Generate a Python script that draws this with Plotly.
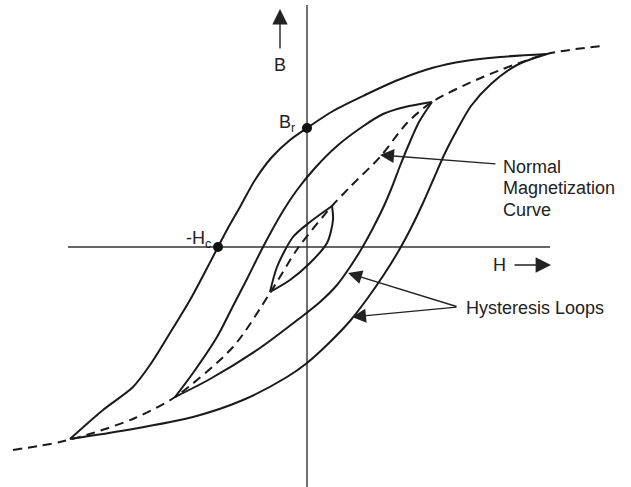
import plotly.graph_objects as go

# ---- data (H, B units; origin at axis crossing) ----
outer_desc_H = [240, 193, 158, 125, 91, 58, 26, 0, -17, -35, -52, -67, -79, -89, -102, -117, -137, -157, -174, -204, -237]
outer_desc_B = [193, 190, 186, 179, 167, 152, 136, 119, 107, 90, 67, 40, 19, 0, -25, -53, -86, -118, -140, -163, -192]

outer_asc_H = [-237, -180, -114, -64, -20, 0, 23, 43, 60, 76, 91, 104, 116, 127, 138, 150, 164, 184, 210, 240]
outer_asc_B = [-192, -183, -170, -153, -130, -116, -95, -74, -52, -29, -5, 19, 44, 69, 94, 117, 141, 163, 182, 193]

mid_desc_H = [125, 98, 76, 55, 30, 8, -10, -24, -44, -60, -75, -90, -114, -132]
mid_desc_B = [145, 140, 133, 120, 101, 79, 57, 36, 0, -32, -61, -90, -126, -150]

mid_asc_H = [-132, -97, -47, -7, 13, 30, 43, 55, 66, 76, 85, 93, 102, 112, 125]
mid_asc_B = [-150, -132, -101, -71, -55, -38, -20, -1, 19, 39, 60, 81, 103, 125, 145]

inner_up_H = [25, 3, -14, -30, -37]
inner_up_B = [41, 25, 10, -20, -45]
inner_lo_H = [-37, -17, 3, 20, 26, 25]
inner_lo_B = [-45, -33, -16, 4, 27, 41]

normal_H = [-294, -247, -214, -172, -132, -74, -37, -9, 25, 43, 73, 100, 125, 176, 240, 295]
normal_B = [-203, -195, -186, -171, -150, -100, -46, -1, 41, 60, 90, 124, 145, 170, 193, 201]

key_H = [0, -89]
key_B = [119, 0]

axis_H_x = [-239, 243]
axis_H_y = [0, 0]
axis_B_x = [0, 0]
axis_B_y = [-240, 242]

LINE = "#1a1a1a"
fig = go.Figure()

# axes
fig.add_trace(go.Scatter(x=axis_H_x, y=axis_H_y, mode="lines",
                         line=dict(color="#333333", width=1.4), hoverinfo="skip"))
fig.add_trace(go.Scatter(x=axis_B_x, y=axis_B_y, mode="lines",
                         line=dict(color="#333333", width=1.4), hoverinfo="skip"))

for hx, by in [(outer_desc_H, outer_desc_B), (outer_asc_H, outer_asc_B),
               (mid_desc_H, mid_desc_B), (mid_asc_H, mid_asc_B),
               (inner_up_H, inner_up_B), (inner_lo_H, inner_lo_B)]:
    fig.add_trace(go.Scatter(x=hx, y=by, mode="lines",
                             line=dict(color=LINE, width=2, shape="spline", smoothing=0.8),
                             hoverinfo="skip"))

fig.add_trace(go.Scatter(x=normal_H, y=normal_B, mode="lines",
                         line=dict(color=LINE, width=2, dash="9px,6px", shape="spline", smoothing=0.8),
                         hoverinfo="skip"))

fig.add_trace(go.Scatter(x=key_H, y=key_B, mode="markers",
                         marker=dict(color="#111111", size=10), hoverinfo="skip"))

FONT = dict(family="Liberation Sans, Arial, sans-serif", size=18, color="#222222")

def arrow(x, y, ax, ay, size=2.0):
    fig.add_annotation(x=x, y=y, ax=ax, ay=ay, xref="x", yref="y", axref="x", ayref="y",
                       text="", showarrow=True, arrowhead=2, arrowsize=size,
                       arrowwidth=1.4, arrowcolor="#222222", standoff=0, startstandoff=0)

def label(x, y, txt, anchor="left"):
    fig.add_annotation(x=x, y=y, xref="x", yref="y", text=txt, showarrow=False,
                       xanchor=anchor, yanchor="middle", font=FONT)

# axis arrows and labels
arrow(-27, 238, -27, 197, size=2.2)
label(-27, 182, "B", anchor="center")
arrow(244, -18, 206, -18, size=2.2)
label(192, -18, "H", anchor="center")
label(-10, 124, "B<sub>r</sub>", anchor="right")
label(-94, 8, "-H<sub>c</sub>", anchor="right")

# callouts
label(194, 80, "Normal")
label(194, 59, "Magnetization")
label(194, 37, "Curve")
arrow(73, 92, 190, 83)

label(157, -61, "Hysteresis Loops")
arrow(41, -26, 151, -60)
arrow(45, -70, 151, -60)

fig.update_layout(
    width=631, height=487,
    margin=dict(l=0, r=0, t=0, b=0),
    paper_bgcolor="white", plot_bgcolor="white",
    showlegend=False,
    xaxis=dict(range=[-307, 324], visible=False, fixedrange=True),
    yaxis=dict(range=[-240, 247], visible=False, fixedrange=True),
)

fig.write_html("out.html", config={"displayModeBar": False},
               post_script="document.body.style.margin='0';document.body.style.padding='0';")
